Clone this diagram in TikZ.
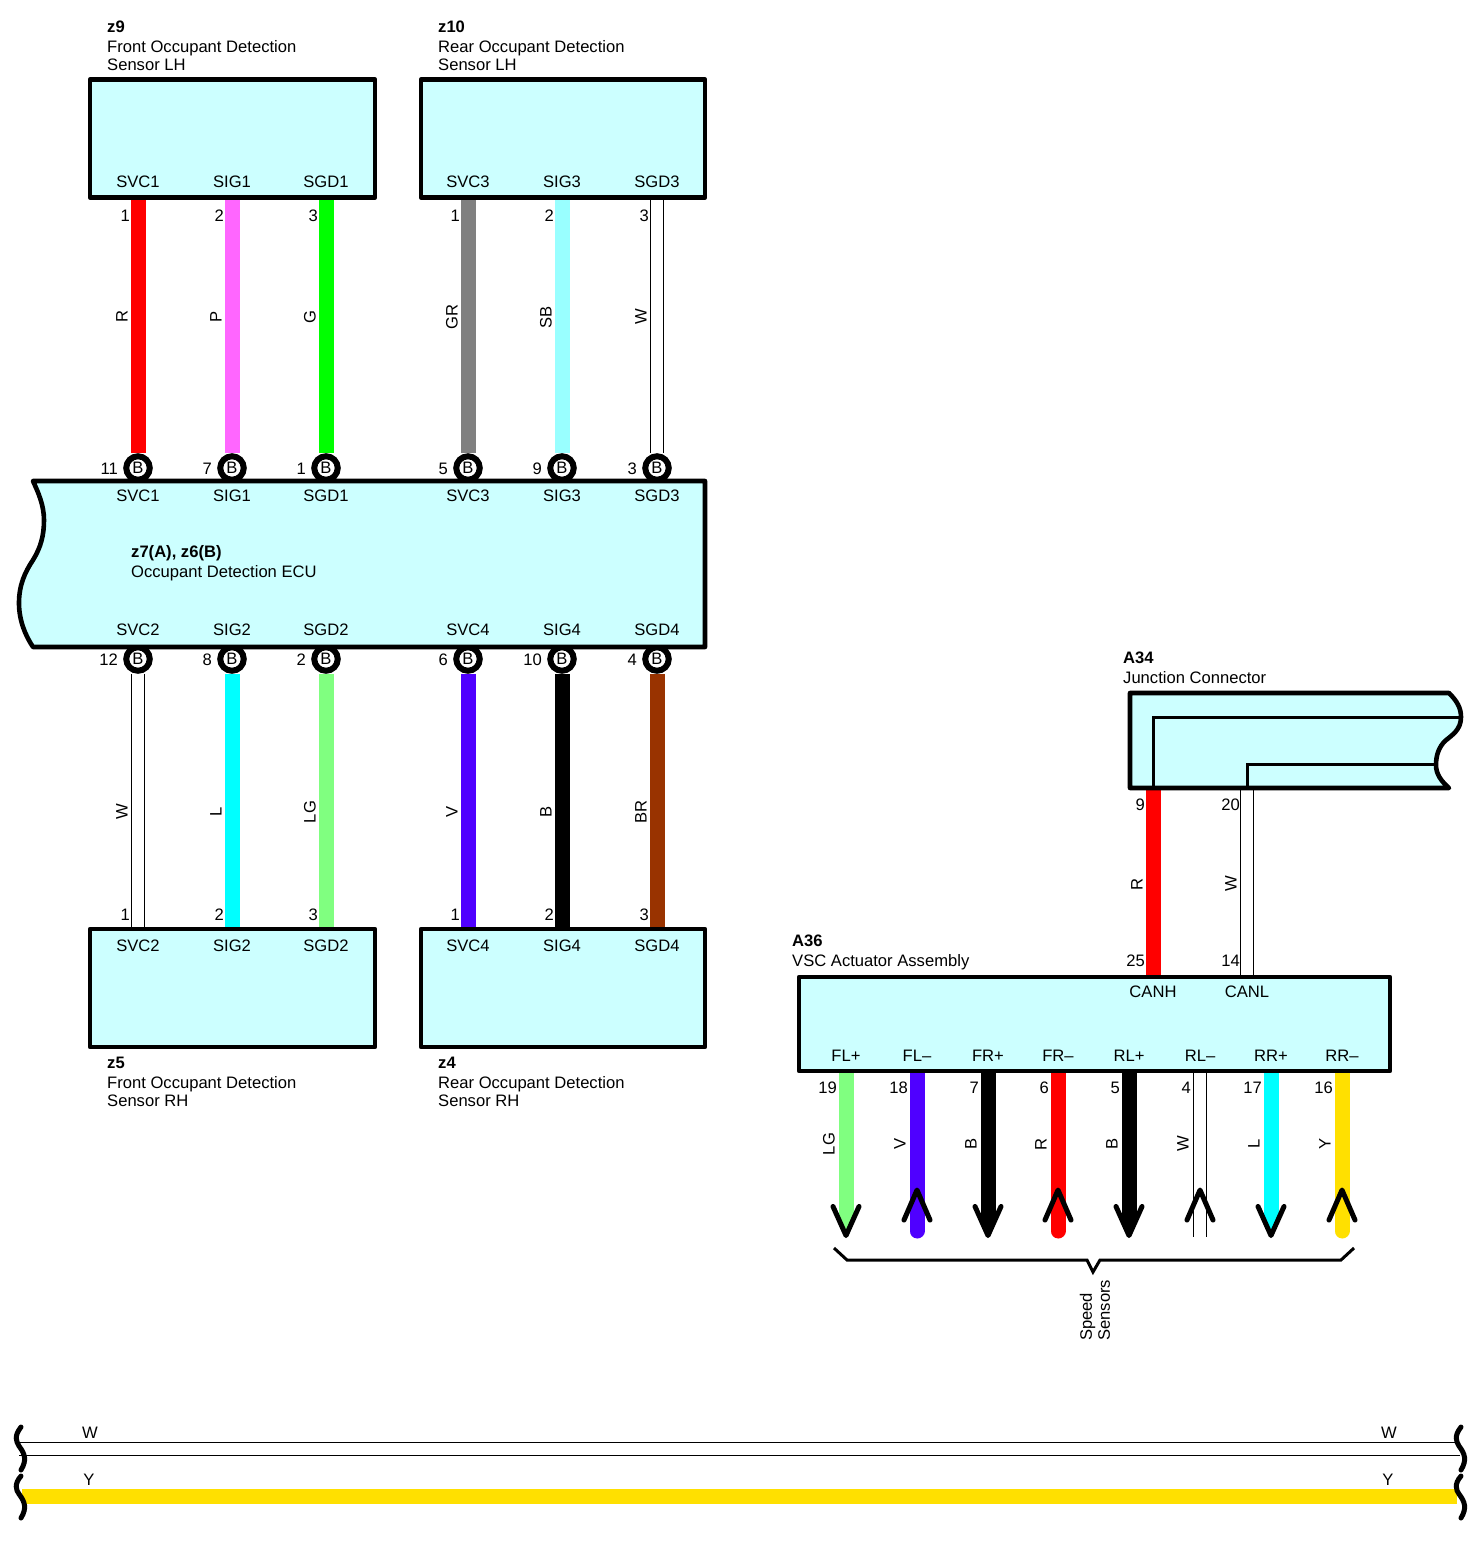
\documentclass[tikz,border=0pt]{standalone}
\usepackage{fontspec}
\setmainfont{Liberation Sans}
\usetikzlibrary{positioning}

\definecolor{boxcyan}{HTML}{CCFFFF}
\definecolor{colP}{HTML}{FF66FF}
\definecolor{colSB}{HTML}{99FFFF}
\definecolor{colL}{HTML}{00FFFF}
\definecolor{colLG}{HTML}{80FF80}
\definecolor{colV}{HTML}{4F00FF}
\definecolor{colBR}{HTML}{993300}
\definecolor{colY}{HTML}{FFE000}
\definecolor{colGR}{HTML}{808080}
\definecolor{colR}{HTML}{FF0000}
\definecolor{colG}{HTML}{00FF00}

\tikzset{
    boxline/.style = {draw, line width = 4.6pt, fill = boxcyan, line join = round},
    innerline/.style = {draw, line width = 3pt},
    wire/.style = {line width = 15pt},
    wR/.style = {wire, draw = colR},
    wP/.style = {wire, draw = colP},
    wG/.style = {wire, draw = colG},
    wGR/.style = {wire, draw = colGR},
    wSB/.style = {wire, draw = colSB},
    wL/.style = {wire, draw = colL},
    wLG/.style = {wire, draw = colLG},
    wV/.style = {wire, draw = colV},
    wB/.style = {wire, draw = black},
    wBR/.style = {wire, draw = colBR},
    wY/.style = {wire, draw = colY},
    wW/.style = {draw = black, line width = 1.2pt, double = white, double distance = 11.6pt},
    plugnode/.style = {circle, draw, line width = 6pt, fill = white, inner sep = 0pt, minimum size = 23.5pt, font = \fontsize{16.6}{18}\selectfont},
    pintext/.style = {inner sep = 0pt, yshift = -1pt, font = \fontsize{16.6}{18}\selectfont},
    numtext/.style = {pintext, anchor = east},
    wiretext/.style = {pintext, rotate = 90},
    titletext/.style = {pintext, anchor = south west, align = left},
    veeline/.style = {draw, line width = 5pt, line cap = round, line join = round},
    squiggle/.style = {draw, line width = 5pt, line cap = round},
}

\begin{document}
\begin{tikzpicture}[x = 1pt, y = -1pt]
    \useasboundingbox (0,0) rectangle (1482,1545);

    % sensors above the ECU
    \foreach \px/\i/\sig/\numa/\numb/\wsty/\lab in {138/1/SVC1/1/11/wR/R, 232/2/SIG1/2/7/wP/P, 326/3/SGD1/3/1/wG/G, 468/4/SVC3/1/5/wGR/GR, 562/5/SIG3/2/9/wSB/SB, 657/6/SGD3/3/3/wW/W} {
        \coordinate (up\i) at (\px,197);
        \node[plugnode] (plugt\i) at (\px,468) {B};
        \draw[\wsty] (up\i) -- (plugt\i);
        \node[numtext] (nupa\i) at (\px-8,215) {\numa};
        \node[numtext] (nupb\i) at (\px-20,468) {\numb};
        \node[wiretext] (wup\i) at (\px-16,316) {\lab};
    }

    % sensors below the ECU
    \foreach \px/\i/\sig/\numa/\numb/\wsty/\lab in {138/1/SVC2/12/1/wW/W, 232/2/SIG2/8/2/wL/L, 326/3/SGD2/2/3/wLG/LG, 468/4/SVC4/6/1/wV/V, 562/5/SIG4/10/2/wB/B, 657/6/SGD4/4/3/wBR/BR} {
        \coordinate (low\i) at (\px,929);
        \node[plugnode] (plugb\i) at (\px,659) {B};
        \draw[\wsty] (plugb\i) -- (low\i);
        \node[numtext] (nlowa\i) at (\px-20,659) {\numa};
        \node[numtext] (nlowb\i) at (\px-8,914) {\numb};
        \node[wiretext] (wlow\i) at (\px-16,811) {\lab};
    }

    \node[boxline, minimum width = 285pt, minimum height = 118pt] (zNine) at (232.5,138.5) {};
    \node[boxline, minimum width = 284pt, minimum height = 118pt] (zTen) at (563,138.5) {};
    \node[boxline, minimum width = 285pt, minimum height = 118pt] (zFive) at (232.5,988) {};
    \node[boxline, minimum width = 284pt, minimum height = 118pt] (zFour) at (563,988) {};
    \draw[boxline] (33,481) -- (705,481) -- (705,647) -- (33,647) .. controls (25,635) and (19,620) .. (19,603)
        .. controls (19,585) and (25,572) .. (33,560) .. controls (41,547) and (44,535) .. (44,520)
        .. controls (44,505) and (38,492) .. (33,481) -- cycle;

    \foreach \px/\i/\sig in {138/1/SVC1, 232/2/SIG1, 326/3/SGD1, 468/4/SVC3, 562/5/SIG3, 657/6/SGD3} {
        \node[pintext] (sa\i) at (\px,181) {\sig};
        \node[pintext] (ea\i) at (\px,495) {\sig};
    }
    \foreach \px/\i/\sig in {138/1/SVC2, 232/2/SIG2, 326/3/SGD2, 468/4/SVC4, 562/5/SIG4, 657/6/SGD4} {
        \node[pintext] (eb\i) at (\px,629) {\sig};
        \node[pintext] (sb\i) at (\px,945) {\sig};
    }

    \node[titletext] (tNine) at (107,70) {\textbf{z9}\\[2pt]Front Occupant Detection\\Sensor LH};
    \node[titletext] (tTen) at (438,70) {\textbf{z10}\\[2pt]Rear Occupant Detection\\Sensor LH};
    \node[titletext] (tFive) at (107,1106) {\textbf{z5}\\[2pt]Front Occupant Detection\\Sensor RH};
    \node[titletext] (tFour) at (438,1106) {\textbf{z4}\\[2pt]Rear Occupant Detection\\Sensor RH};
    \node[titletext] (tEcu) at (131,580) {\textbf{z7(A), z6(B)}\\[2pt]Occupant Detection ECU};

    % junction connector and actuator
    \coordinate (jcH) at (1153,788);
    \coordinate (jcL) at (1247,788);
    \coordinate (vscH) at (1153,977);
    \coordinate (vscL) at (1247,977);
    \draw[wR] (jcH) -- (vscH);
    \draw[wW] (jcL) -- (vscL);
    \draw[boxline] (1130,693) -- (1449,693) .. controls (1457,701) and (1461,708) .. (1461,717)
        .. controls (1461,730) and (1452,735) .. (1445,741) .. controls (1439,747) and (1436,755) .. (1436,765)
        .. controls (1436,774) and (1441,781) .. (1449,788) -- (1130,788) -- cycle;
    \draw[innerline] (jcH) -- (1153,717) -- (1461,717);
    \draw[innerline] (jcL) -- (1247,764) -- (1436,764);
    \node[titletext] (tJc) at (1123,682.5) {\textbf{A34}\\[2pt]Junction Connector};
    \node[numtext] (nH) at (1145,804) {9};
    \node[numtext] (nL) at (1240,804) {20};
    \node[numtext] (nHb) at (1145,960) {25};
    \node[numtext] (nLb) at (1240,960) {14};
    \node[wiretext] (wH) at (1137,883) {R};
    \node[wiretext] (wL) at (1231,883) {W};

    % wires to the speed sensors, arrow pointing away
    \foreach \px/\i/\wsty/\colr in {846/1/wLG/colLG, 988/3/wB/black, 1129/5/wB/black, 1271/7/wL/colL} {
        \coordinate (pin\i) at (\px,1071);
        \coordinate (end\i) at (\px,1219);
        \draw[\wsty] (pin\i) -- (end\i);
        \fill[\colr] (\px-7.5,1218) -- (\px,1235) -- (\px+7.5,1218) -- cycle;
        \draw[veeline] (\px-13,1206.5) -- (\px,1235.5) -- (\px+13,1206.5);
    }
    % wires to the speed sensors, arrow pointing back
    \foreach \px/\i/\wsty in {917/2/wV, 1058/4/wR, 1342/8/wY} {
        \coordinate (pin\i) at (\px,1071);
        \coordinate (end\i) at (\px,1231);
        \draw[\wsty, line cap = round] (pin\i) -- (end\i);
    }
    \coordinate (pin6) at (1200,1071);
    \coordinate (end6) at (1200,1237);
    \draw[wW] (pin6) -- (end6);
    \foreach \px in {917, 1058, 1200, 1342} {
        \draw[veeline] (\px-13,1220) -- (\px,1190) -- (\px+13,1220);
    }

    \node[boxline, minimum width = 591pt, minimum height = 94pt] (vsc) at (1094.5,1024) {};
    \node[pintext] (canH) at (1153,991) {CANH};
    \node[pintext] (canL) at (1247,991) {CANL};
    \node[titletext] (tVsc) at (792,969) {\textbf{A36}\\[2pt]VSC Actuator Assembly};
    \foreach \px/\i/\sig/\num/\lab in {846/1/FL+/19/LG, 917/2/FL--/18/V, 988/3/FR+/7/B, 1058/4/FR--/6/R, 1129/5/RL+/5/B, 1200/6/RL--/4/W, 1271/7/RR+/17/L, 1342/8/RR--/16/Y} {
        \node[pintext] (fp\i) at (\px,1055) {\sig};
        \node[numtext] (fn\i) at (\px-9,1087) {\num};
        \node[wiretext] (fw\i) at (\px-17,1143) {\lab};
    }

    \draw[innerline] (834,1248) -- (847,1260) -- (1087,1260) -- (1093,1272) -- (1100,1260) -- (1341,1260) -- (1354,1248);
    \node[pintext, rotate = 90, align = left, anchor = west] (speed) at (1095,1340) {Speed\\Sensors};

    % long wires along the bottom
    \coordinate (wLeft) at (19,1449);
    \coordinate (wRight) at (1460,1449);
    \coordinate (yLeft) at (22,1496.5);
    \coordinate (yRight) at (1457,1496.5);
    \draw[wW] (wLeft) -- (wRight);
    \draw[wY] (yLeft) -- (yRight);
    \foreach \sx/\i in {1/a, 1441/b} {
        \draw[squiggle] (\sx+20,1427) .. controls (\sx+13,1436) and (\sx+15,1441) .. (\sx+18,1446) .. controls (\sx+24,1454) and (\sx+26,1460) .. (\sx+20,1470);
        \draw[squiggle] (\sx+20,1476) .. controls (\sx+13,1484) and (\sx+15,1490) .. (\sx+18,1494) .. controls (\sx+24,1502) and (\sx+26,1508) .. (\sx+20,1518);
    }
    \node[pintext] (wNameL) at (90,1432) {W};
    \node[pintext] (wNameR) at (1389,1432) {W};
    \node[pintext] (yNameL) at (89,1479) {Y};
    \node[pintext] (yNameR) at (1388,1479) {Y};
\end{tikzpicture}
\end{document}
